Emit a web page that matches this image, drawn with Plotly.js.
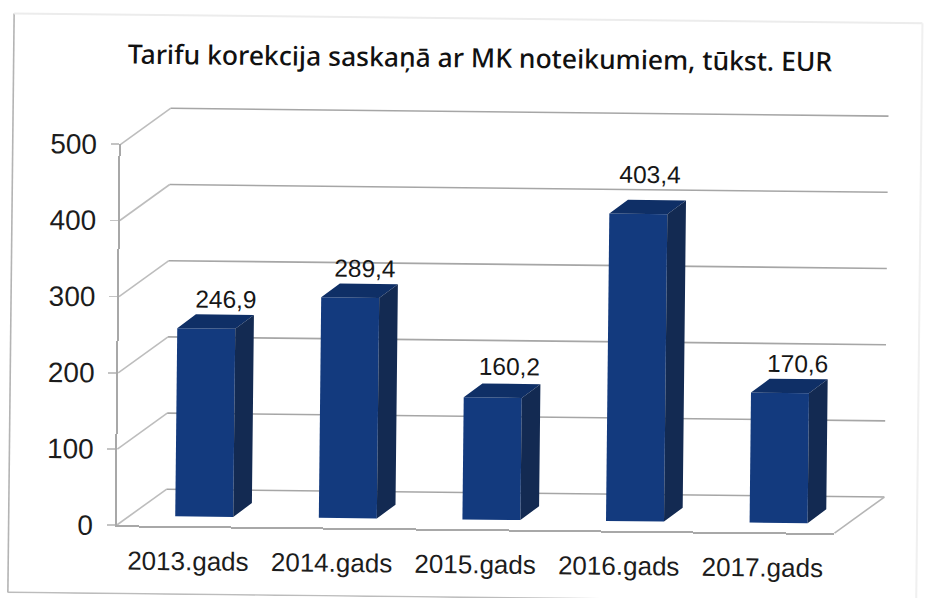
<!DOCTYPE html>
<html>
<head>
<meta charset="utf-8">
<script src="https://cdn.plot.ly/plotly-3.0.1.min.js"></script>
<style>
html,body{margin:0;padding:0;background:#fff;overflow:hidden;width:926px;height:598px}
#chart{width:926px;height:598px;transform:rotate(0.62deg);transform-origin:463px 299px}
</style>
</head>
<body>
<div id="chart"></div>
<script>
const chartTitle = 'Tarifu korekcija saskaņā ar MK noteikumiem, tūkst. EUR';
const categories = ['2013.gads', '2014.gads', '2015.gads', '2016.gads', '2017.gads'];
const values = [246.9, 289.4, 160.2, 403.4, 170.6];
const yTicks = [0, 100, 200, 300, 400, 500];

// oblique 3D projection, in axis units
const wallDx = 0.3445, wallDy = 47.9;
const barDx = 0.129, barDy = 18.4;
const barBase = 12.6, barShift = 0.11, barWidth = 0.404;
const xMax = categories.length - 0.5, xMin = -0.5;
// small label nudges, in pixels
const labelNudgeX = [5, 0, 2, -3, 3];
const labelNudgeY = [0, 0, 2, 10, 0];
const pxPerCat = 143.7, pxPerVal = 0.762;

const idx = categories.map((_, i) => i);
const px = c => (c - xMin) / (xMax - xMin);
const py = v => v / 500;
const seg = (x0, y0, x1, y1, color, width) => ({
  type: 'line', xref: 'paper', yref: 'paper', layer: 'below',
  x0: px(x0), y0: py(y0), x1: px(x1), y1: py(y1),
  line: {color, width}
});

const shapes = [];
yTicks.forEach(v => {
  shapes.push(seg(xMin, v, xMin + wallDx, v + wallDy, '#bdbdbd', 1.6));
  shapes.push(seg(xMin + wallDx, v + wallDy, xMax + wallDx, v + wallDy, '#a6a6a6', 1.6));
});
shapes.push(seg(xMax, 0, xMax + wallDx, wallDy, '#b5b5b5', 1.6));

// scanned page frame
const frame = (x0, y0, x1, y1, color, width) => ({
  type: 'line', xref: 'paper', yref: 'paper', layer: 'below',
  x0: (x0 - 119) / 718.5, x1: (x1 - 119) / 718.5,
  y0: (528.7 - y0) / 381, y1: (528.7 - y1) / 381,
  line: {color, width}
});
shapes.push(frame(11, 18, 11, 597, '#b4b4b4', 1.6));
shapes.push(frame(11, 597, 920, 597, '#bcbcbc', 1.6));
shapes.push(frame(11, 18, 920, 18, '#ececec', 2));
shapes.push(frame(920, 18, 920, 597, '#f0f0f0', 2));

const topX = [], topY = [], sideX = [], sideY = [];
idx.forEach(i => {
  const L = i + barShift - barWidth / 2, R = i + barShift + barWidth / 2;
  const t = values[i] + barBase;
  topX.push(L, L + barDx, R + barDx, R, L, null);
  topY.push(t, t + barDy, t + barDy, t, t, null);
  sideX.push(R, R + barDx, R + barDx, R, R, null);
  sideY.push(barBase, barBase + barDy, t + barDy, t, barBase, null);
});

const traces = [
  {type: 'bar', x: idx.map(i => i + barShift), y: values, base: barBase, width: barWidth,
   marker: {color: '#133a7e', line: {width: 0}}, hoverinfo: 'skip', showlegend: false},
  {type: 'scatter', mode: 'lines', x: topX, y: topY, fill: 'toself', fillcolor: '#0f2f66',
   line: {width: 0}, hoverinfo: 'skip', showlegend: false, cliponaxis: false},
  {type: 'scatter', mode: 'lines', x: sideX, y: sideY, fill: 'toself', fillcolor: '#132a52',
   line: {width: 0}, hoverinfo: 'skip', showlegend: false, cliponaxis: false},
  {type: 'scatter', mode: 'text', x: idx.map(i => i + barShift + 0.1 + labelNudgeX[i] / pxPerCat),
   y: values.map((v, i) => v + barBase + barDy + 17 + labelNudgeY[i] / pxPerVal),
   text: values.map(v => v.toFixed(1).replace('.', ',')),
   textposition: 'middle center',
   textfont: {family: 'Liberation Sans, Arial, sans-serif', size: 24.5, color: '#161616'},
   hoverinfo: 'skip', showlegend: false, cliponaxis: false}
];

const layout = {
  width: 926, height: 598,
  margin: {l: 119, r: 88.5, t: 147.7, b: 69.3},
  paper_bgcolor: '#ffffff', plot_bgcolor: 'rgba(0,0,0,0)',
  showlegend: false,
  title: {
    text: chartTitle, x: 0.5155, xref: 'container', xanchor: 'center',
    y: 0.903, yref: 'container', yanchor: 'middle',
    font: {family: 'Noto Sans, sans-serif', size: 26.5, color: '#111111', weight: 500}
  },
  xaxis: {
    range: [xMin, xMax], tickmode: 'array', tickvals: idx, ticktext: categories,
    showgrid: false, zeroline: false, showline: true, linecolor: '#a8a8a8', linewidth: 2,
    ticks: '', ticklabelstandoff: 11,
    tickfont: {family: 'Liberation Sans, Arial, sans-serif', size: 26, color: '#1c1c1c'}
  },
  yaxis: {
    range: [0, 500], tickmode: 'array', tickvals: yTicks, ticktext: yTicks.map(String),
    showgrid: false, zeroline: false, showline: true, linecolor: '#a8a8a8', linewidth: 2,
    ticks: 'outside', ticklen: 8, tickcolor: '#c4c4c4', tickwidth: 1.5, ticklabelstandoff: 8,
    tickfont: {family: 'Liberation Sans, Arial, sans-serif', size: 28, color: '#1c1c1c'}
  },
  shapes
};

Plotly.newPlot('chart', traces, layout, {displayModeBar: false, staticPlot: true});
</script>
</body>
</html>
